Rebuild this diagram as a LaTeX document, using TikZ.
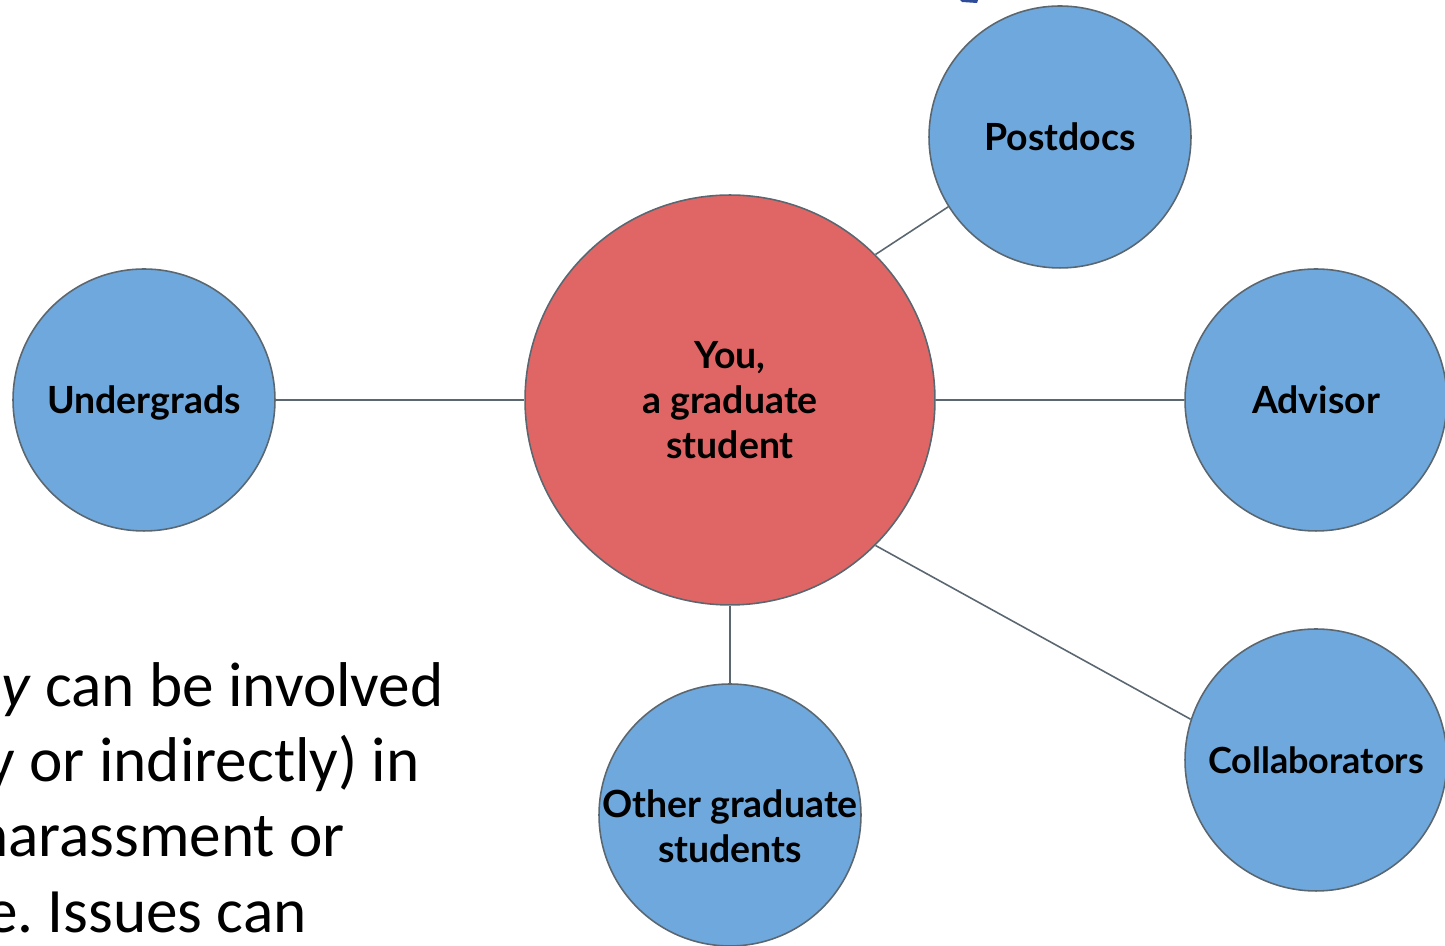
\documentclass[tikz,border=0pt]{standalone}
\usepackage{fontspec}
\usepackage{tikz}
\usetikzlibrary{positioning,calc}

\newfontfamily\latofont{Lato}
\newfontfamily\bodyfont{Carlito}

\definecolor{peerblue}{HTML}{6FA8DC}
\definecolor{selfred}{HTML}{E06666}
\definecolor{rimgray}{HTML}{5B6770}
\definecolor{markblue}{HTML}{2E4C9A}

\begin{document}
\begin{tikzpicture}[
    x=0.02cm, y=0.02cm,
    every node/.style={font=\latofont\bfseries\fontsize{21.3}{25.6}\selectfont},
    person/.style={circle, draw=rimgray, fill=peerblue, line width=0.9pt,
                   minimum size=5.24cm, inner sep=0pt, align=center},
    oneline/.style={person, text height=20pt, text depth=5pt},
    selfnode/.style={person, fill=selfred, minimum size=8.2cm},
    link/.style={draw=rimgray, line width=0.9pt},
    body/.style={font=\bodyfont\fontsize{36}{44}\selectfont, anchor=base east,
                 inner sep=0pt}
]
  \useasboundingbox (0,0) rectangle (1445,946);
  \clip (0,0) rectangle (1445,946);

  % the student and the people around them
  \node[selfnode] (you) at (730,546) {You,\\a graduate\\student};
  \node[oneline] (postdocs)   at (1060,809) {Postdocs};
  \node[oneline] (advisor)    at (1316,546) {Advisor};
  \node[oneline] (undergrads) at (144,546)  {Undergrads};
  \node[person]  (others)     at (730,131)  {};
  \node[align=center] (otherstext) at ([yshift=-6.5pt]others.center) {Other graduate\\students};
  \node[oneline, font=\latofont\bfseries\fontsize{20.5}{25}\selectfont] (collab) at (1316,186) {Collaborators};

  \draw[link] (undergrads.east) -- (you.west);
  \draw[link] (you.east) -- (advisor.west);
  \draw[link] (you.south) -- (others.north);
  \draw[link] (you.45) -- (postdocs.212);
  \draw[link] (you.-45) -- (collab.162);

  % slide text running in from the left
  \node[body] (line1) at (444,239) {\textit{y} can be involved};
  \node[body] (line2) at (420,164) {y or indirectly) in};
  \node[body] (line3) at (345,89)  {harassment or};
  \node[body] (line4) at (307,13)  {e.\ Issues can};

  % edge of a shape above the frame
  \fill[markblue] (960,946) -- (978,946) -- (977,943) -- (962,944) -- cycle;
\end{tikzpicture}
\end{document}
